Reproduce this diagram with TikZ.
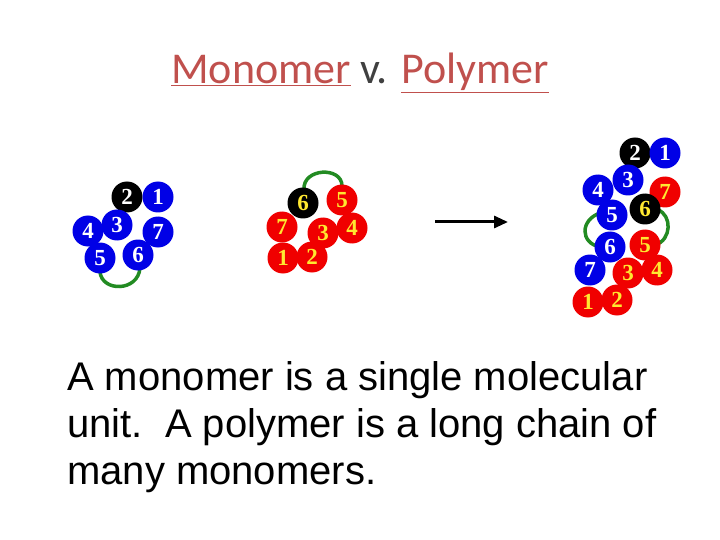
\documentclass[tikz,border=0pt]{standalone}
\usepackage{fontspec}
\setmainfont{Liberation Sans}
\newfontfamily\numf{Liberation Serif}
\newfontfamily\titlef{Carlito}
\usetikzlibrary{arrows.meta}
\definecolor{tred}{HTML}{C0504D}
\definecolor{tgrey}{HTML}{404040}
\definecolor{bblue}{HTML}{0000E6}
\definecolor{rred}{HTML}{F00000}
\definecolor{gyel}{HTML}{FFE830}
\definecolor{lgreen}{HTML}{228B22}
\tikzset{
 ball/.style={circle,minimum size=31pt,inner sep=0pt,font=\numf\bfseries\fontsize{23}{23}\selectfont},
 bb/.style={ball,fill=bblue,text=white},
 kb/.style={ball,fill=black,text=white},
 ky/.style={ball,fill=black,text=gyel},
 rb/.style={ball,fill=rred,text=gyel},
 link/.style={draw=lgreen,line width=3.5pt},
 body/.style={font=\fontsize{40}{47}\selectfont,align=left,anchor=base west,inner sep=0pt}
}
\begin{document}
\begin{tikzpicture}[x=1pt,y=-1pt]
\useasboundingbox (0,0) rectangle (720,540);
\node[font=\titlef\fontsize{44}{44}\selectfont,text=tgrey,anchor=base] (title) at (360,84) {\textcolor{tred}{\underline{Monomer}} v. \textcolor{tred}{\underline{Polymer}}};
% left monomer
\draw[link] (100,272) .. controls (102,292) and (138,292) .. (140,268);
\node[kb] (a2) at (127,197) {2};
\node[bb] (a1) at (158,197) {1};
\node[bb] (a4) at (88,231) {4};
\node[bb] (a3) at (117,225) {3};
\node[bb] (a7) at (158,232) {7};
\node[bb] (a5) at (100,258) {5};
\node[bb] (a6) at (138,255) {6};
% middle monomer
\draw[link] (304,190) .. controls (302,168) and (342,166) .. (342,186);
\node[ky] (b6) at (303,203) {6};
\node[rb] (b5) at (342,200) {5};
\node[rb] (b7) at (282,227) {7};
\node[rb] (b4) at (352,228) {4};
\node[rb] (b3) at (323,233) {3};
\node[rb] (b1) at (283,258) {1};
\node[rb] (b2) at (312,257) {2};
% arrow
\coordinate (s) at (435,222);
\coordinate (e) at (508,222);
\draw[line width=3pt,-{Triangle[length=14pt,width=12pt]}] (s) -- (e);
% polymer
\draw[link] (600,213) .. controls (580,220) and (580,243) .. (600,247);
\draw[link] (658,210) .. controls (672,215) and (672,240) .. (655,245);
\node[kb] (c2) at (635,153) {2};
\node[bb] (c1) at (665,153) {1};
\node[bb] (c4) at (598,190) {4};
\node[bb] (c3) at (628,180) {3};
\node[rb] (c7) at (665,192) {7};
\node[bb] (c5) at (612,215) {5};
\node[ky] (c6) at (645,209) {6};
\node[bb] (c6b) at (610,247) {6};
\node[rb] (c5r) at (645,245) {5};
\node[bb] (c7b) at (590,270) {7};
\node[rb] (c4r) at (657,270) {4};
\node[rb] (c3r) at (628,273) {3};
\node[rb] (c1r) at (588,302) {1};
\node[rb] (c2r) at (617,300) {2};
\node[body] (txt) at (67,484) {A monomer is a single molecular\\unit.\ \ A polymer is a long chain of\\many monomers.};
\end{tikzpicture}
\end{document}
